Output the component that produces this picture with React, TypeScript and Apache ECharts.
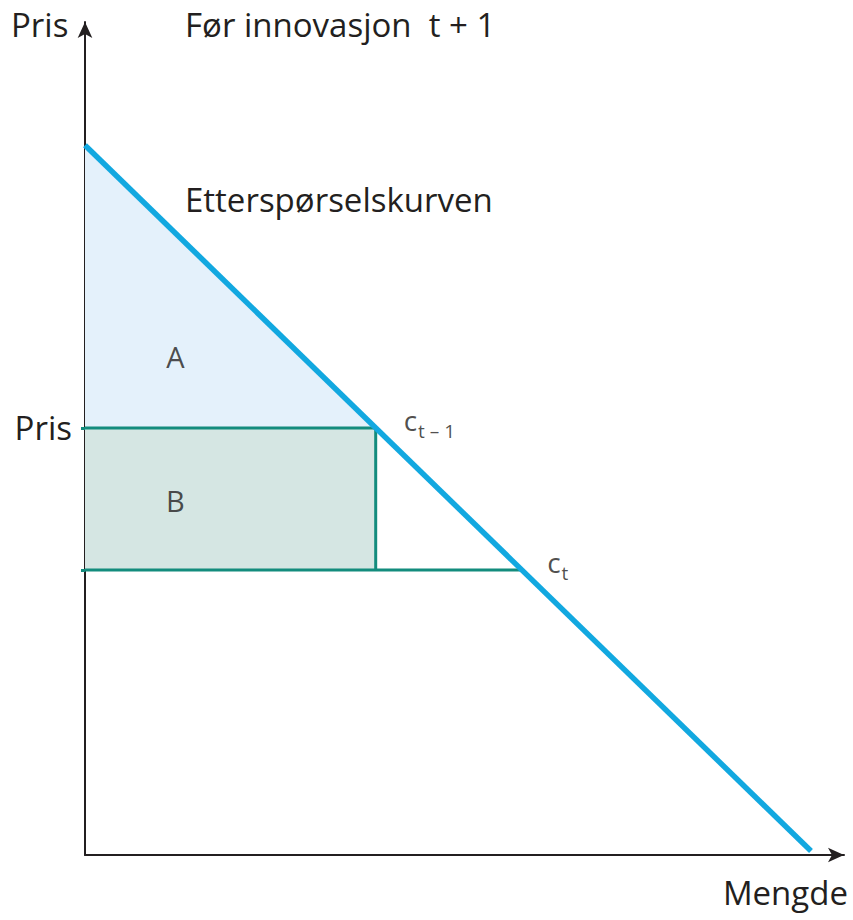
import React, { useEffect, useRef } from "react";
import * as echarts from "echarts";

// Demand curve endpoints (quantity, price) in axis units 0..100
const demandCurve: number[][] = [
  [0, 85.2],
  [95.65, 0.48],
];
// Price levels: before innovation (c_{t-1}) and after (c_t)
const priceLevels = [51.26, 34.2];
// Quantities where those price levels meet the demand curve
const quantities = [38.3, 57.6];
// Area labels positions (quantity, price)
const areaLabels = [
  { name: "A", value: [11.9, 59.8] },
  { name: "B", value: [11.9, 42.6] },
];
// Cost labels (subscripts)
const costLabels = ["t – 1", "t"];

const TEXT = "#231f20";
const BLUE = "#12a8e0";
const TEAL = "#138c7d";
const FONT = "'Open Sans', 'Noto Sans', sans-serif";

export default function App() {
  const ref = useRef<HTMLDivElement>(null);
  useEffect(() => {
    if (!ref.current) return;
    const chart = echarts.init(ref.current, undefined, { renderer: "svg" });
    const [p1, p0] = priceLevels;
    const [q1, q0] = quantities;
    const polygons = [
      { pts: [demandCurve[0], [0, p1], [q1, p1]], fill: "#e4f1fb" },
      { pts: [[0, p1], [q1, p1], [q1, p0], [0, p0]], fill: "#d5e6e3" },
    ];
    const axisLine = {
      show: true,
      onZero: false,
      symbol: ["none", "arrow"],
      symbolSize: [11, 16],
      lineStyle: { color: TEXT, width: 2 },
    };
    const txt = (text: string, x: number, y: number, align: string) => ({
      type: "text",
      x,
      y,
      style: { text, font: `33px ${FONT}`, fill: TEXT, align, verticalAlign: "middle" },
    });
    chart.setOption({
      animation: false,
      backgroundColor: "#ffffff",
      grid: { left: 85, right: 9, top: 22, bottom: 65, containLabel: false },
      xAxis: {
        type: "value",
        min: 0,
        max: 100,
        axisLine,
        axisTick: { show: false },
        axisLabel: { show: false },
        splitLine: { show: false },
      },
      yAxis: {
        type: "value",
        min: 0,
        max: 100,
        axisLine,
        axisTick: {
          show: true,
          customValues: priceLevels,
          length: 4,
          lineStyle: { color: TEAL, width: 3 },
        },
        axisLabel: { show: false },
        splitLine: { show: false },
      },
      graphic: [
        txt("Pris", 11, 24, "left"),
        txt("Før innovasjon  t + 1", 185, 24, "left"),
        txt("Etterspørselskurven", 185, 199, "left"),
        txt("Pris", 72, 427, "right"),
        txt("Mengde", 848, 892, "right"),
      ],
      series: [
        {
          type: "custom",
          silent: true,
          z: 1,
          clip: false,
          data: polygons.map((_, i) => i),
          renderItem: (params: any, api: any) => {
            const poly = polygons[params.dataIndex];
            return {
              type: "polygon",
              shape: { points: poly.pts.map((p) => api.coord(p)) },
              style: { fill: poly.fill },
            };
          },
        },
        {
          type: "line",
          z: 3,
          showSymbol: false,
          data: [
            [0, p1],
            [q1, p1],
          ],
          lineStyle: { color: TEAL, width: 3 },
        },
        {
          type: "line",
          z: 3,
          showSymbol: false,
          data: [
            [0, p0],
            [q0, p0],
          ],
          lineStyle: { color: TEAL, width: 3 },
        },
        {
          type: "line",
          z: 3,
          showSymbol: false,
          data: [
            [q1, p1],
            [q1, p0],
          ],
          lineStyle: { color: TEAL, width: 3 },
        },
        {
          type: "line",
          z: 4,
          showSymbol: false,
          data: demandCurve,
          lineStyle: { color: BLUE, width: 5.5 },
        },
        {
          type: "scatter",
          z: 5,
          symbolSize: 0,
          data: areaLabels.map((d) => ({ name: d.name, value: d.value })),
          label: {
            show: true,
            position: "inside",
            formatter: (p: any) => p.name,
            fontFamily: FONT,
            fontSize: 29,
            color: TEXT,
          },
        },
        {
          type: "scatter",
          z: 5,
          symbolSize: 0,
          data: [
            { name: costLabels[0], value: [q1, p1], label: { position: [28, -8] } },
            { name: costLabels[1], value: [q0, p0], label: { position: [25, -8] } },
          ],
          label: {
            show: true,
            align: "left",
            verticalAlign: "middle",
            formatter: (p: any) => `{c|c}{s|${p.name}}`,
            rich: {
              c: { fontFamily: FONT, fontSize: 28, color: TEXT },
              s: { fontFamily: FONT, fontSize: 19, color: TEXT, padding: [22, 0, 0, 1] },
            },
          },
        },
      ],
    });
    return () => chart.dispose();
  }, []);
  return (
    <div
      ref={ref}
      style={{ position: "fixed", left: 0, top: 0, width: 853, height: 920, background: "#fff" }}
    />
  );
}
